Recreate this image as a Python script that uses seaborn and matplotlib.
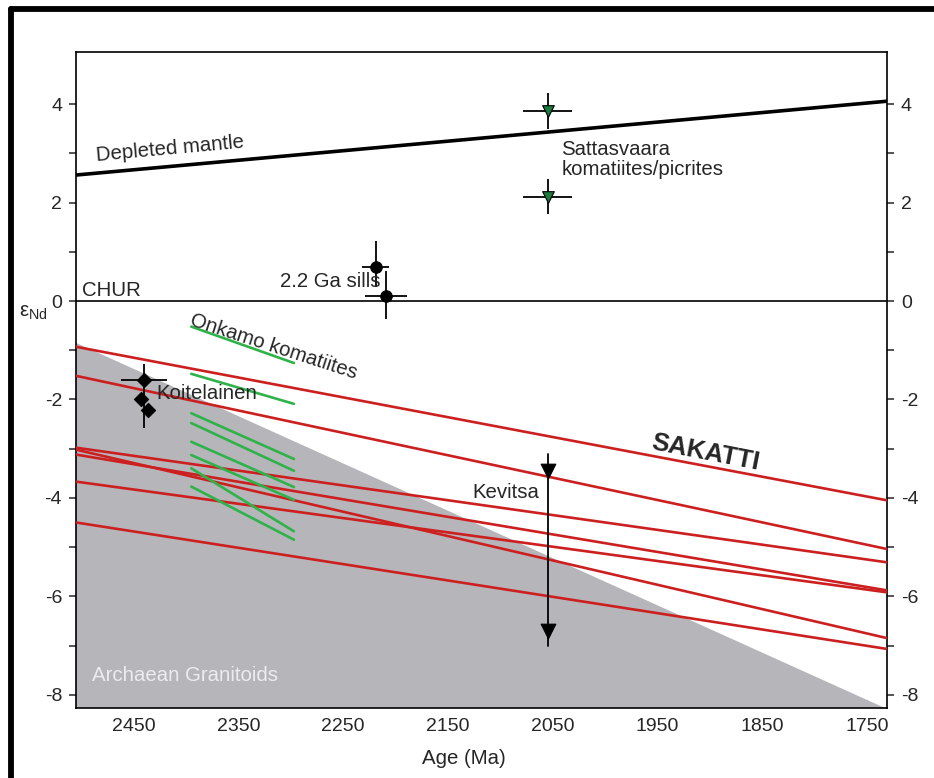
import numpy as np
import pandas as pd
import matplotlib
matplotlib.use("Agg")
import matplotlib.pyplot as plt
from matplotlib.lines import Line2D
import seaborn as sns

# ---- data -------------------------------------------------------------
age_min, age_max = 1731, 2505

# Depleted mantle evolution line (age, eps)
dm_age = [2505, 1731]
dm_eps = [2.56, 4.06]

# Archaean granitoid field (polygon corners)
gran_age = [2505, 1733, 2505]
gran_eps = [-0.85, -8.27, -8.27]

# Sakatti Nd evolution lines: eps at 2505 Ma and at 1731 Ma
sak_start = [-0.93, -1.52, -2.98, -3.12, -3.67, -3.02, -4.50]
sak_end = [-4.05, -5.04, -5.31, -5.88, -5.92, -6.85, -7.07]

# Onkamo komatiite evolution lines: eps at 2395 Ma and 2297 Ma
onk_age = [2395, 2297]
onk_start = [-0.52, -1.48, -2.28, -2.48, -2.86, -3.13, -3.40, -3.77]
onk_end = [-1.26, -2.09, -3.21, -3.45, -3.78, -4.04, -4.68, -4.85]

# 2.2 Ga sills
sill_age = [2219, 2209]
sill_eps = [0.70, 0.10]
sill_xerr = [13, 20]
sill_yerr_lo = [0.41, 0.47]
sill_yerr_hi = [0.52, 0.50]

# Sattasvaara komatiites/picrites
sat_age = [2055, 2055]
sat_eps = [3.86, 2.12]
sat_xerr = [23, 23]
sat_yerr = [0.36, 0.36]

# Koitelainen
koi_age = [2440, 2443, 2436]
koi_eps = [-1.60, -2.00, -2.21]

# Kevitsa range
kev_age = [2055, 2055]
kev_eps = [-3.45, -6.70]
kev_span = [-3.10, -7.02]

y_major = [-8, -6, -4, -2, 0, 2, 4]
y_minor = [-7, -5, -3, -1, 1, 3]
x_major = [2450, 2350, 2250, 2150, 2050, 1950, 1850, 1750]

# ---- style ------------------------------------------------------------
sns.set_theme(style="ticks")
plt.rcParams["font.family"] = ["Liberation Sans", "DejaVu Sans"]
plt.rcParams["axes.unicode_minus"] = False

RED = "#cc2020"
GREEN = "#2fb24a"
GRAY = "#b6b6ba"
FS = 14.7
TFS = 14

fig = plt.figure(figsize=(9.34, 7.78), dpi=100)
ax = fig.add_axes([76 / 934, 1 - 708 / 778, (887 - 76) / 934, (708 - 52) / 778])

# granitoid field
ax.fill(gran_age, gran_eps, color=GRAY, lw=0, zorder=1)

# CHUR reference
ax.axhline(0, color="black", lw=1.2, zorder=2)

# depleted mantle
sns.lineplot(x=dm_age, y=dm_eps, color="black", lw=2.6, ax=ax, zorder=3)

# Sakatti lines
sak = pd.DataFrame({
    "age": [age_max, age_min] * len(sak_start),
    "eps": [v for pair in zip(sak_start, sak_end) for v in pair],
    "line": np.repeat(np.arange(len(sak_start)), 2),
})
sns.lineplot(data=sak, x="age", y="eps", units="line", estimator=None,
             sort=False, color=RED, lw=1.9, ax=ax, legend=False, zorder=4)

# Onkamo lines
onk = pd.DataFrame({
    "age": onk_age * len(onk_start),
    "eps": [v for pair in zip(onk_start, onk_end) for v in pair],
    "line": np.repeat(np.arange(len(onk_start)), 2),
})
sns.lineplot(data=onk, x="age", y="eps", units="line", estimator=None,
             sort=False, color=GREEN, lw=1.9, ax=ax, legend=False, zorder=4)

# 2.2 Ga sills
ax.errorbar(sill_age, sill_eps, xerr=sill_xerr,
            yerr=[sill_yerr_lo, sill_yerr_hi], fmt="none",
            ecolor="black", elinewidth=1.3, capsize=0, zorder=5)
sns.scatterplot(x=sill_age, y=sill_eps, color="black", marker="o", s=70,
                edgecolor="black", ax=ax, zorder=6)

# Sattasvaara
ax.errorbar(sat_age, sat_eps, xerr=sat_xerr, yerr=sat_yerr, fmt="none",
            ecolor="black", elinewidth=1.3, capsize=0, zorder=5)
sns.scatterplot(x=sat_age, y=sat_eps, color="#1b7a3c", marker="v", s=70,
                edgecolor="black", linewidth=0.8, ax=ax, zorder=6)

# Koitelainen
ax.errorbar([koi_age[0]], [koi_eps[0]], xerr=[[22], [22]],
            yerr=[[0.98], [0.33]], fmt="none", ecolor="black",
            elinewidth=1.3, capsize=0, zorder=5)
sns.scatterplot(x=koi_age, y=koi_eps, color="black", marker="D", s=55,
                edgecolor="black", ax=ax, zorder=6)

# Kevitsa
ax.plot(kev_age, kev_span, color="black", lw=1.3, zorder=5)
sns.scatterplot(x=kev_age, y=kev_eps, color="black", marker="v", s=110,
                edgecolor="black", ax=ax, zorder=6)

# ---- labels -----------------------------------------------------------
ax.text(2415, 3.10, "Depleted mantle", fontsize=FS, rotation=5.2,
        ha="center", va="center", rotation_mode="anchor", zorder=7)
ax.text(2042, 2.88, "Sattasvaara\nkomatiites/picrites", fontsize=FS,
        ha="left", va="center", linespacing=1.1, zorder=7)
ax.text(2310, 0.39, "2.2 Ga sills", fontsize=FS, ha="left", va="center",
        zorder=7)
ax.text(2499, 0.22, "CHUR", fontsize=FS, ha="left", va="center", zorder=7)
ax.text(2316, -0.93, "Onkamo komatiites", fontsize=FS, rotation=-18,
        ha="center", va="center", rotation_mode="anchor", zorder=7)
ax.text(2428, -1.87, "Koitelainen", fontsize=FS, ha="left", va="center",
        zorder=7)
ax.text(1904, -3.07, "SAKATTI", fontsize=18.5, fontweight="bold",
        rotation=-11, ha="center", va="center", rotation_mode="anchor",
        zorder=7)
ax.text(2095, -3.89, "Kevitsa", fontsize=FS, ha="center", va="center",
        zorder=7)
ax.text(2490, -7.6, "Archaean Granitoids", fontsize=FS, color="#ececee",
        ha="left", va="center", zorder=7)

ax.set_xlabel("Age (Ma)", fontsize=FS)
ax.xaxis.set_label_coords((464 - 76) / 811, -0.062)
ax.set_ylabel("")
fig.text(33 / 934, 1 - 312 / 778, r"$\mathregular{\varepsilon_{Nd}}$",
         fontsize=FS, ha="center", va="center")

# ---- axes -------------------------------------------------------------
ax.set_xlim(age_max, age_min)
ax.set_ylim(-8.27, 5.06)
ax.set_xticks(x_major)
ax.set_yticks(y_major)
ax.set_yticks(y_minor, minor=True)
ax.tick_params(axis="x", direction="in", length=6, width=1.1, labelsize=TFS,
               pad=7, top=False, bottom=True)
ax.tick_params(axis="y", which="both", direction="out", length=5, width=1.1,
               labelsize=TFS, pad=5, left=True, right=True, labelright=True)
for s in ax.spines.values():
    s.set_visible(True)
    s.set_color("black")
    s.set_linewidth(1.2)

# outer frame
fig.add_artist(Line2D([11 / 934, 11 / 934], [1 - 9 / 778, -0.05],
                      transform=fig.transFigure, color="black", lw=4.2))
fig.add_artist(Line2D([11 / 934, 1.05], [1 - 9 / 778, 1 - 9 / 778],
                      transform=fig.transFigure, color="black", lw=4.2))

fig.savefig("out.png", dpi=100)
